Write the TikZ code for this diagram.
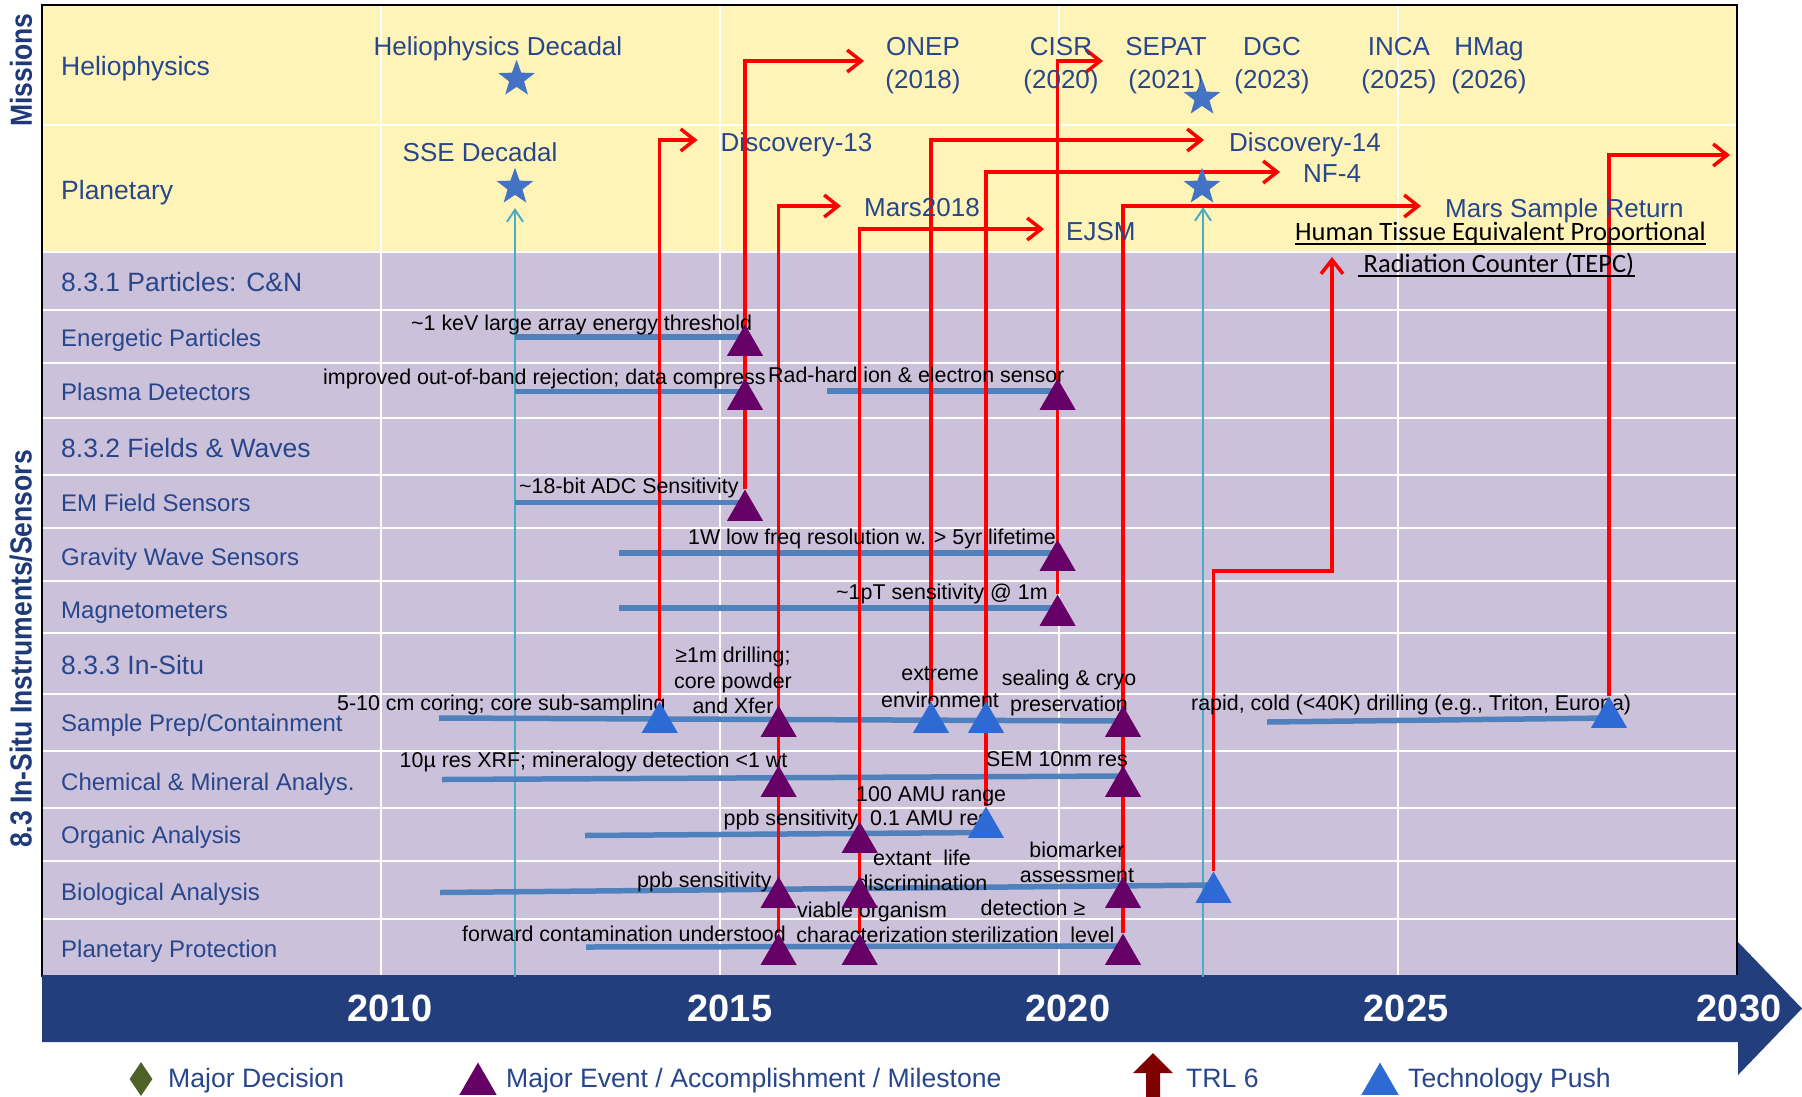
\documentclass[tikz,border=0pt]{standalone}
\usepackage{fontspec}
\setmainfont{Liberation Sans}
\newfontfamily\tepcfont{Carlito}
\usetikzlibrary{shapes.geometric,arrows.meta}
\pgfdeclarelayer{bg}
\pgfdeclarelayer{links}
\pgfsetlayers{bg,links,main}

\definecolor{lblnavy}{HTML}{27468C}
\definecolor{sidenavy}{HTML}{1F3A78}
\definecolor{paleyellow}{HTML}{FFF4B8}
\definecolor{lavender}{HTML}{CCC1DA}
\definecolor{barblue}{HTML}{4F81BD}
\definecolor{evpurple}{HTML}{660066}
\definecolor{pushblue}{HTML}{2E6AD4}
\definecolor{starblue}{HTML}{4472C4}
\definecolor{cyanline}{HTML}{4BACC6}
\definecolor{linkred}{HTML}{FF0000}
\definecolor{timeline}{HTML}{233E7C}
\definecolor{decgreen}{HTML}{4F6228}
\definecolor{trlred}{HTML}{800000}

\begin{document}
\begin{tikzpicture}[x=1pt,y=-1pt,
  rowlbl/.style={anchor=base west, inner sep=0pt, text=lblnavy, font=\fontsize{24}{28}\selectfont},
  seclbl/.style={anchor=base west, inner sep=0pt, text=lblnavy, font=\fontsize{26.5}{30}\selectfont},
  mission/.style={anchor=base, inner sep=0pt, text=lblnavy, font=\fontsize{26}{30}\selectfont},
  missionw/.style={mission, anchor=base west},
  note/.style={anchor=base west, inner sep=0pt, text=black, font=\fontsize{21.4}{25}\selectfont},
  notec/.style={note, anchor=base},
  sidelbl/.style={rotate=90, inner sep=0pt, text=sidenavy, font=\fontsize{26.5}{30}\selectfont\bfseries},
  yearlbl/.style={anchor=base, inner sep=0pt, text=white, font=\fontsize{38}{42}\selectfont\bfseries},
  legtext/.style={anchor=base west, inner sep=0pt, text=lblnavy, font=\fontsize{26.6}{30}\selectfont},
  tepc/.style={anchor=base, inner sep=0pt, text=black, font=\tepcfont\fontsize{26.5}{30}\selectfont},
  gridline/.style={draw=white, line width=2.5pt},
  milestone/.style={regular polygon, regular polygon sides=3, minimum size=41.6pt, inner sep=0pt, fill=evpurple, anchor=south},
  techpush/.style={milestone, fill=pushblue},
  decadal/.style={star, star points=5, star point ratio=2.45, minimum size=38.5pt, inner sep=0pt, fill=starblue},
  legdiamond/.style={diamond, minimum width=23pt, minimum height=34pt, inner sep=0pt, fill=decgreen},
  techbar/.style={draw=barblue, line width=5.5pt},
  link/.style={draw=linkred, line width=3.5pt, -{Straight Barb[length=14pt,width=22pt]}},
  cyanlink/.style={draw=cyanline, line width=2pt, -{Straight Barb[length=12pt,width=16pt]}}
]
\useasboundingbox (0,0) rectangle (1802,1096);

% ---------- background panels, grid and time axis ----------
\begin{pgfonlayer}{bg}
  \fill[white] (0,0) rectangle (1802,1096);
  \fill[paleyellow] (42,5) rectangle (1737,252);
  \fill[lavender] (42,252) rectangle (1737,977);
  \foreach \yy in {125,252,310,363,418,475,528,581,633,694,751,808,861,919}
    \draw[gridline] (42,\yy) -- (1737,\yy);
  \foreach \xx in {381,720,1059,1398}
    \draw[gridline] (\xx,5) -- (\xx,977);
  \draw[black, line width=2.5pt] (42,977) -- (42,5) -- (1737,5) -- (1737,977);
  \fill[timeline] (42,975) -- (1738,975) -- (1738,942) -- (1802,1008.5)
                  -- (1738,1075) -- (1738,1042) -- (42,1042) -- cycle;
\end{pgfonlayer}

% ---------- side captions ----------
\node[sidelbl] (capMissions) at (21,70) {\scalebox{1}[1.15]{Missions}};
\node[sidelbl] (capInstr) at (21,649) {\scalebox{1}[1.15]{8.3 In-Situ Instruments/Sensors}};

% ---------- row labels ----------
\node[seclbl] (rHelio) at (61,75.5) {Heliophysics};
\node[seclbl] (rPlan)  at (61,199) {Planetary};
\node[seclbl] (rS831)  at (61,291) {8.3.1 Particles: C\&N};
\node[rowlbl] (rEP)    at (61,346) {Energetic Particles};
\node[rowlbl] (rPD)    at (61,400) {Plasma Detectors};
\node[seclbl] (rS832)  at (61,457) {8.3.2 Fields \& Waves};
\node[rowlbl] (rEM)    at (61,511) {EM Field Sensors};
\node[rowlbl] (rGW)    at (61,565) {Gravity Wave Sensors};
\node[rowlbl] (rMG)    at (61,618) {Magnetometers};
\node[seclbl] (rS833)  at (61,674) {8.3.3 In-Situ};
\node[rowlbl] (rSP)    at (61,731) {Sample Prep/Containment};
\node[rowlbl] (rCM)    at (61,790) {Chemical \& Mineral Analys.};
\node[rowlbl] (rOA)    at (61,843) {Organic Analysis};
\node[rowlbl] (rBA)    at (61,900) {Biological Analysis};
\node[rowlbl] (rPP)    at (61,957) {Planetary Protection};

% ---------- years ----------
\node[yearlbl] (y2010) at (390,1021.5) {2010};
\node[yearlbl] (y2015) at (730,1021.5) {2015};
\node[yearlbl] (y2020) at (1068,1021.5) {2020};
\node[yearlbl] (y2025) at (1406,1021.5) {2025};
\node[yearlbl] (y2030) at (1739,1021.5) {2030};

% ---------- missions ----------
\node[mission]  (mHelioDec) at (498,55) {Heliophysics Decadal};
\node[mission]  (mSSEDec)   at (480,161.5) {SSE Decadal};
\node[missionw] (mDisc13)   at (720.5,151.5) {Discovery-13};
\node[mission]  (mONEP)     at (923,55) {ONEP};
\node[mission]  (mONEPy)    at (923,88) {(2018)};
\node[mission]  (mCISR)     at (1061,55) {CISR};
\node[mission]  (mCISRy)    at (1061,88) {(2020)};
\node[mission]  (mSEPAT)    at (1166,55) {SEPAT};
\node[mission]  (mSEPATy)   at (1166,88) {(2021)};
\node[mission]  (mDGC)      at (1272,55) {DGC};
\node[mission]  (mDGCy)     at (1272,88) {(2023)};
\node[mission]  (mINCA)     at (1399,55) {INCA};
\node[mission]  (mINCAy)    at (1399,88) {(2025)};
\node[mission]  (mHMag)     at (1489,55) {HMag};
\node[mission]  (mHMagy)    at (1489,88) {(2026)};
\node[missionw] (mDisc14)   at (1229,151.5) {Discovery-14};
\node[missionw] (mNF4)      at (1303,182) {NF-4};
\node[missionw] (mMars18)   at (864,216) {Mars2018};
\node[missionw] (mEJSM)     at (1066,240) {EJSM};
\node[missionw] (mMSR)      at (1445,217) {Mars Sample Return};
\node[tepc] (tepcA) at (1500.5,240) {Human Tissue Equivalent Proportional};
\node[tepc] (tepcB) at (1499,272) {Radiation Counter (TEPC)};
\draw[line width=1.6pt] ([yshift=-4pt]tepcA.base west) -- ([yshift=-4pt]tepcA.base east);
\draw[line width=1.6pt] ([yshift=-4pt,xshift=-5pt]tepcB.base west) -- ([yshift=-4pt]tepcB.base east);

% ---------- milestone notes ----------
\node[note]  (n01) at (411,330) {\textasciitilde1 keV large array energy threshold};
\node[note]  (n02) at (323,384) {improved out-of-band rejection; data compress};
\node[note]  (n03) at (768,382) {Rad-hard ion \& electron sensor};
\node[note]  (n04) at (519,493) {\textasciitilde18-bit ADC Sensitivity};
\node[note]  (n05) at (688,544) {1W low freq resolution w. > 5yr lifetime};
\node[note]  (n06) at (836,599) {\textasciitilde1pT sensitivity @ 1m};
\node[note]  (n07) at (337,710) {5-10 cm coring; core sub-sampling};
\node[notec] (n08a) at (733,662) {≥1m drilling;};
\node[notec] (n08b) at (733,688) {core powder};
\node[notec] (n08c) at (733,713) {and Xfer};
\node[notec] (n09a) at (940,680) {extreme};
\node[notec] (n09b) at (940,707) {environment};
\node[notec] (n10a) at (1069,685) {sealing \& cryo};
\node[notec] (n10b) at (1069,711) {preservation};
\node[note]  (n11) at (1191,710) {rapid, cold (<40K) drilling (e.g., Triton, Europa)};
\node[note]  (n12) at (399.5,767) {10µ res XRF; mineralogy detection <1 wt};
\node[note]  (n13) at (986,766) {SEM 10nm res};
\node[note]  (n14) at (856,801) {100 AMU range};
\node[note]  (n15) at (723.5,825) {ppb sensitivity};
\node[note]  (n16) at (870,825) {0.1 AMU res};
\node[note]  (n17) at (637,887) {ppb sensitivity};
\node[notec] (n18a) at (922,865) {extant\ \ life};
\node[notec] (n18b) at (922,890) {discrimination};
\node[notec] (n19a) at (1077,857) {biomarker};
\node[notec] (n19b) at (1077,882) {assessment};
\node[note]  (n20) at (462,941) {forward contamination understood};
\node[notec] (n21a) at (872,917) {viable organism};
\node[notec] (n21b) at (872,942) {characterization};
\node[notec] (n22a) at (1033,915) {detection ≥};
\node[notec] (n22b) at (1033,942) {sterilization\ \ level};

% ---------- milestones (purple) ----------
\node[milestone] (ep1) at (745,356) {};
\node[milestone] (pd1) at (745,410) {};
\node[milestone] (pd2) at (1057.6,410) {};
\node[milestone] (em1) at (745,521) {};
\node[milestone] (gw1) at (1057.6,571) {};
\node[milestone] (mg1) at (1057.6,626) {};
\node[milestone] (sp2) at (778.6,737) {};
\node[milestone] (sp5) at (1123,737) {};
\node[milestone] (ch1) at (778.6,797) {};
\node[milestone] (ch2) at (1123,797) {};
\node[milestone] (og1) at (859.7,853) {};
\node[milestone] (bi1) at (778.6,908) {};
\node[milestone] (bi2) at (859.7,908) {};
\node[milestone] (bi3) at (1123,908) {};
\node[milestone] (pp1) at (778.6,965) {};
\node[milestone] (pp2) at (859.7,965) {};
\node[milestone] (pp3) at (1123,965) {};

% ---------- technology push (blue) ----------
\node[techpush] (sp1) at (659.7,733) {};
\node[techpush] (sp3) at (931,733) {};
\node[techpush] (sp4) at (986,733) {};
\node[techpush] (sp6) at (1609,728) {};
\node[techpush] (og2) at (986,838) {};
\node[techpush] (bi4) at (1213.5,903) {};

% ---------- decadal surveys ----------
\node[decadal] (sHelio) at (516.6,79) {};
\node[decadal] (sSSE)   at (515,187) {};
\node[decadal] (sSEPAT) at (1202,98) {};
\node[decadal] (sNF)    at (1202,187) {};

% ---------- legend ----------
\node[legdiamond] (lgDec) at (141,1079) {};
\node[legtext] (lgDecT) at (168,1087) {Major Decision};
\node[milestone, minimum size=43pt] (lgEv) at (478,1095) {};
\node[legtext] (lgEvT) at (506,1087) {Major Event / Accomplishment / Milestone};
\fill[trlred] (1146,1097) -- (1146,1073) -- (1133,1073) -- (1153,1053)
              -- (1173,1073) -- (1160,1073) -- (1160,1097) -- cycle;
\node[legtext] (lgTrlT) at (1186,1087) {TRL 6};
\node[techpush, minimum size=43pt] (lgPush) at (1380,1095) {};
\node[legtext] (lgPushT) at (1408,1087) {Technology Push};

% ---------- arrow end points ----------
\coordinate (toDisc13) at (697.5,140);
\coordinate (toONEP)   at (864,61);
\coordinate (toMars18) at (841,206);
\coordinate (toEJSM)   at (1044,229);
\coordinate (toDisc14) at (1204,140);
\coordinate (toNF4)    at (1280,172);
\coordinate (toCISR)   at (1103,61);
\coordinate (toMSR)    at (1421,206);
\coordinate (tepcKnee) at (1332,571);
\coordinate (toTEPC)   at (1332,257);
\coordinate (toBeyond) at (1730,155);
\coordinate (cyanFootA) at (515,977);
\coordinate (cyanTipA)  at (515,208);
\coordinate (cyanFootB) at (1203,977);
\coordinate (cyanTipB)  at (1203,207);

\begin{pgfonlayer}{links}
  % survey lines
  \draw[cyanlink] (cyanFootA) -- (cyanTipA);
  \draw[cyanlink] (cyanFootB) -- (cyanTipB);
  % capability bars
  \draw[techbar] (515,337) -- (745,337);
  \draw[techbar] (515,391.5) -- (745,391.5);
  \draw[techbar] (827,391) -- (1057,391);
  \draw[techbar] (515,502.5) -- (745,502.5);
  \draw[techbar] (619,553) -- (1057,553);
  \draw[techbar] (619,608) -- (1057,608);
  \draw[techbar] (439,718) -- (1123,721);
  \draw[techbar] (1267,722) -- (1609,718);
  \draw[techbar] (442,779.5) -- (1123,776);
  \draw[techbar] (585,835.5) -- (986,832.5);
  \draw[techbar] (440,892.5) -- (1213,885);
  \draw[techbar] (586,947) -- (1123,946);
  % milestones feeding missions
  \draw[link] (sp1.north) |- (toDisc13);
  \draw[link] (em1.north) |- (toONEP);
  \draw[link] (pp1.north) |- (toMars18);
  \draw[link] (pp2.north) |- (toEJSM);
  \draw[link] (sp3.north) |- (toDisc14);
  \draw[link] (og2.north) |- (toNF4);
  \draw[link] (mg1.north) |- (toCISR);
  \draw[link] (pp3.north) |- (toMSR);
  \draw[link] (bi4.north) |- (tepcKnee) -- (toTEPC);
  \draw[link] (sp6.north) |- (toBeyond);
\end{pgfonlayer}
\end{tikzpicture}
\end{document}
